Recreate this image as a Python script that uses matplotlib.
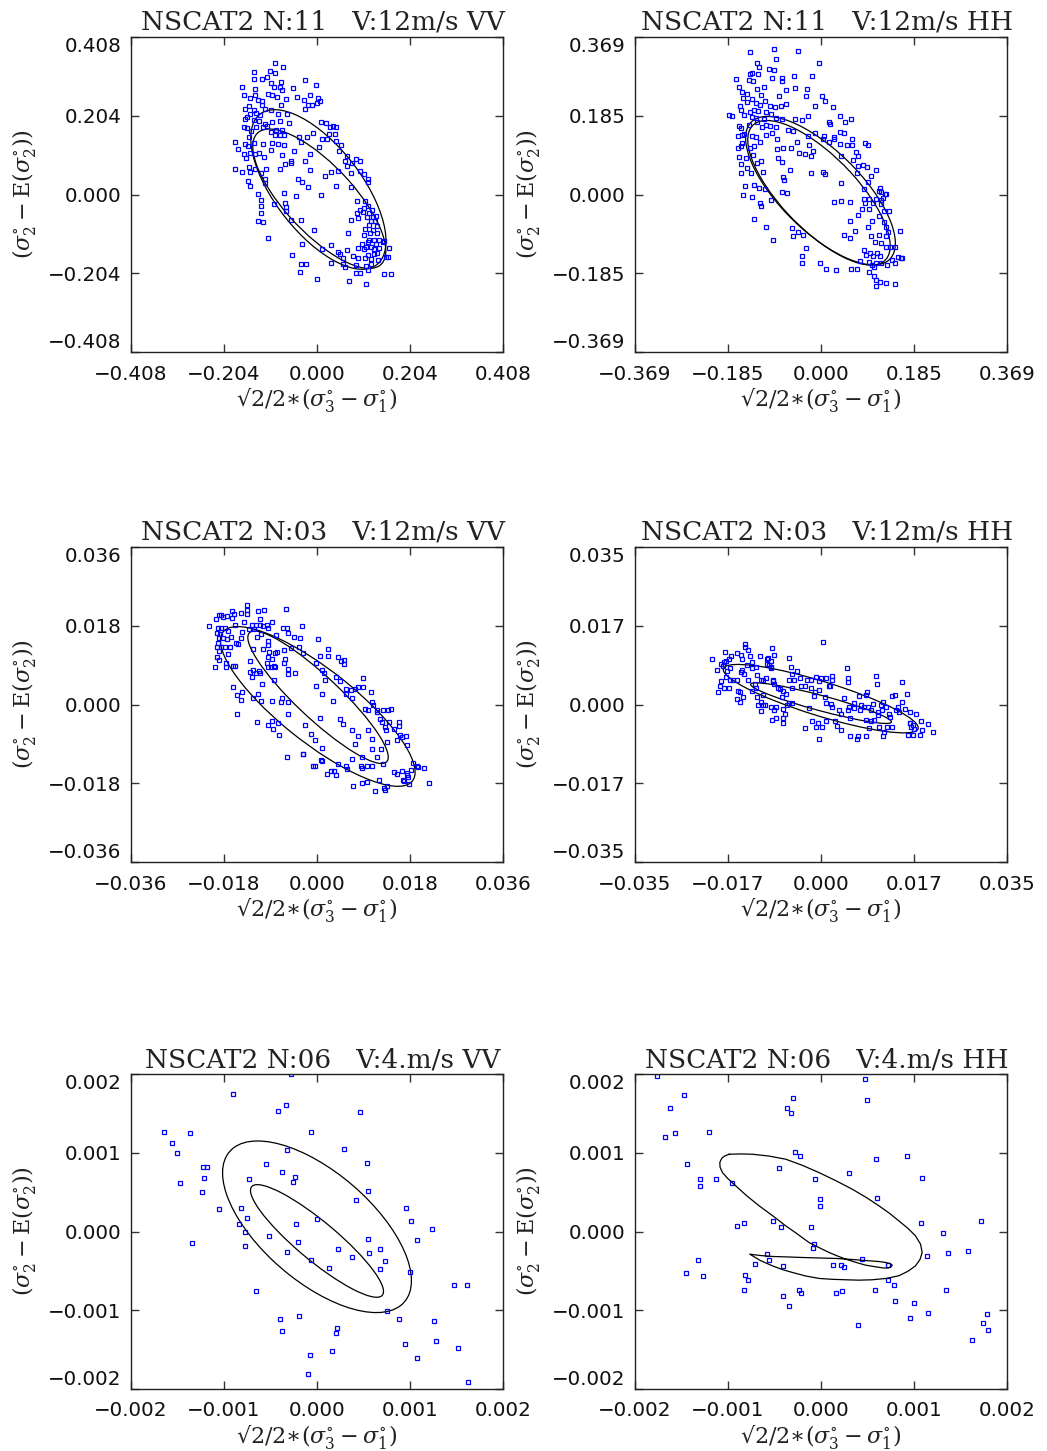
import numpy as np
import matplotlib
matplotlib.use("Agg")
import matplotlib.pyplot as plt
from matplotlib.patches import Ellipse

plt.rcParams['mathtext.fontset'] = 'dejavuserif'

# all values below are in units of 1e-3

# --- NSCAT2 N:11 VV
tl_pts = np.array([
    [-93,341],[-74,329],[-139,318],[-104,321],[-92,315],[-139,300],[-120,298],[-110,305],[-26,296],[-165,279],
    [-101,288],[-95,279],[-82,279],[-78,291],[-2,284],[-52,275],[-135,272],[-76,270],[-160,259],[-136,257],
    [-108,261],[-99,257],[-88,252],[-68,247],[-44,253],[-28,246],[-15,259],[3,249],[7,241],[-146,250],
    [-129,246],[-120,242],[-159,222],[-150,228],[-139,219],[-121,231],[-113,222],[-79,231],[-27,222],[-20,231],
    [-10,231],[1,237],[-133,212],[-125,205],[-101,219],[-86,209],[-66,209],[-158,196],[-153,200],[-146,208],
    [-139,194],[-127,191],[-114,182],[-99,187],[-82,191],[-61,185],[9,189],[20,184],[28,175],[35,177],
    [41,175],[-160,176],[-154,171],[-145,165],[-133,174],[-119,174],[-110,177],[-102,162],[-91,168],[-76,168],
    [-72,153],[-93,153],[-81,153],[-39,149],[-23,149],[-9,160],[11,143],[26,156],[39,156],[-179,136],
    [-173,117],[-158,132],[-150,148],[-152,125],[-139,134],[-119,132],[-99,134],[-85,130],[-73,128],[-51,112],
    [-36,136],[-16,106],[4,123],[21,143],[42,139],[52,129],[-161,105],[-156,94],[-147,108],[-136,104],
    [-127,108],[-116,98],[-101,115],[-77,102],[-58,86],[-57,82],[-27,88],[49,112],[66,99],[85,92],
    [77,82],[94,87],[-180,67],[-164,58],[-150,71],[-147,58],[-135,65],[-123,56],[-112,67],[-81,65],
    [-70,80],[-15,63],[18,49],[31,58],[47,61],[61,86],[66,73],[74,56],[95,60],[104,54],
    [112,39],[112,32],[-152,35],[-148,23],[-114,29],[-114,39],[-42,41],[-32,32],[-19,19],[41,22],
    [74,19],[-130,2],[-72,4],[-45,-5],[9,-2],[-123,-15],[-122,-30],[-94,-24],[-71,-22],[-67,-32],
    [-69,-43],[-122,-49],[-130,-69],[-119,-72],[-56,-67],[-35,-67],[-7,-93],[11,-141],[31,-131],[47,-148],
    [65,-143],[-34,-127],[-54,-156],[-36,-180],[-25,-179],[-37,-200],[1,-219],[30,-178],[58,-181],[61,-187],
    [-107,-113],[71,-223],[86,-203],[95,-203],[108,-233],[112,-195],[148,-205],[163,-205],[157,-138],[156,-162],
    [148,-120],[87,-16],[106,-18],[112,-29],[104,-34],[94,-39],[101,-46],[114,-48],[120,-40],[88,-49],
    [110,-58],[123,-58],[130,-56],[74,-67],[89,-61],[118,-68],[127,-68],[115,-79],[131,-82],[106,-89],
    [122,-91],[68,-99],[102,-105],[117,-99],[131,-99],[113,-117],[124,-119],[136,-117],[144,-122],[98,-127],
    [112,-124],[129,-129],[90,-139],[102,-141],[107,-136],[118,-136],[126,-141],[137,-138],[112,-158],[124,-155],
    [132,-151],[80,-160],[91,-164],[105,-164],[118,-168],[133,-170],[151,-162],[51,-153],[58,-164],[85,-182],
    [108,-186],[118,-181]])
# ellipses: centre x, centre y, width, height, angle (deg)
tl_ell = [(3, 13, 468, 200, -58.8), (5, -11, 436, 160, -53.0)]

# --- NSCAT2 N:11 HH
tr_pts = np.array([
    [-141,334],[-93,340],[-45,336],[-3,307],[-127,307],[-123,299],[-104,294],[-94,291],[-90,318],[-168,270],
    [-141,282],[-136,285],[-124,283],[-98,272],[-77,274],[-54,277],[-17,277],[-162,252],[-143,269],[-135,265],
    [-114,253],[-77,265],[-69,244],[-51,249],[-27,246],[-157,240],[-146,235],[-127,246],[-119,232],[-111,218],
    [-83,231],[-29,231],[1,230],[8,220],[-155,225],[-147,216],[-136,224],[-129,214],[-121,210],[-102,207],
    [-91,206],[-79,207],[-70,211],[-11,208],[24,204],[-161,208],[-158,197],[-141,194],[-132,199],[-124,196],
    [-110,194],[-100,189],[-182,186],[-176,185],[-153,186],[-136,182],[-128,180],[-113,177],[-89,179],[-77,177],
    [-52,176],[-38,174],[-25,183],[15,169],[18,166],[38,183],[48,169],[60,177],[-163,160],[-159,155],
    [-143,163],[-126,171],[-118,159],[-110,163],[-102,160],[-90,159],[-65,151],[-56,149],[-26,138],[-12,145],
    [6,136],[26,130],[37,147],[46,144],[62,130],[87,120],[94,116],[-165,138],[-157,139],[-153,141],
    [-136,138],[-129,134],[-109,139],[-98,144],[-87,131],[-48,123],[-24,116],[4,131],[16,122],[26,134],
    [38,119],[52,117],[61,116],[70,100],[-165,110],[-158,114],[-156,120],[-141,110],[-133,114],[-122,123],
    [-87,106],[-75,108],[-59,110],[-43,97],[-32,94],[-20,90],[-16,102],[40,90],[64,81],[73,90],
    [-162,89],[-149,86],[-134,92],[-126,73],[-120,79],[-85,86],[-77,75],[-61,57],[-20,51],[4,53],
    [7,49],[74,67],[83,69],[91,65],[110,57],[-158,71],[-147,61],[-158,50],[-139,50],[-116,53],
    [-75,42],[-73,35],[71,51],[99,43],[94,30],[-151,20],[-132,22],[-123,15],[-112,14],[40,26],
    [86,13],[117,16],[120,6],[126,2],[115,8],[-155,-2],[-137,-6],[-100,-13],[-121,-20],[-78,6],
    [-67,3],[-120,-27],[86,-10],[95,-10],[109,-10],[120,-12],[123,-9],[129,2],[87,-20],[95,-34],
    [104,-21],[120,-22],[135,-39],[124,-39],[-133,-57],[-109,-75],[-95,-106],[-58,-79],[-55,-97],[-46,-89],
    [-36,-96],[73,-48],[82,-35],[93,-75],[102,-61],[116,-51],[125,-64],[128,-75],[132,-87],[129,-98],
    [115,-94],[40,-15],[58,-17],[25,-18],[58,-61],[67,-85],[46,-96],[58,-103],[100,-97],[108,-112],
    [119,-114],[128,-122],[137,-122],[146,-122],[157,-86],[-30,-126],[-37,-144],[-37,-160],[-1,-161],[10,-175],
    [29,-178],[60,-175],[72,-175],[77,-156],[86,-131],[90,-141],[97,-138],[104,-145],[112,-138],[117,-145],
    [96,-158],[101,-165],[106,-171],[109,-161],[120,-161],[130,-165],[140,-153],[146,-161],[152,-147],[158,-149],
    [161,-149],[96,-181],[105,-191],[110,-200],[110,-214],[117,-204],[129,-207],[147,-209]])
tr_ell = [(-1, 9, 424, 172, -51.3), (-4, 4, 412, 158, -52.0)]

# --- NSCAT2 N:03 VV
ml_pts = np.array([
    [-21.0,17.9],[-19.6,19.5],[-19.8,8.5],[-19.0,20.4],[-18.5,20.4],[-18.2,19.9],[-17.4,20.2],[-16.5,19.8],[-16.5,21.4],[-16.0,20.7],
    [-14.7,20.9],[-13.6,22.7],[-13.6,21.7],[-13.5,20.7],[-14.2,18.8],[-11.4,21.4],[-10.2,21.7],[-6.0,21.9],[-19.2,17.4],[-18.6,17.5],
    [-17.9,17.4],[-17.2,16.8],[-19.3,16.4],[-18.7,16.1],[-19.0,15.2],[-18.2,15.3],[-17.5,15.0],[-16.6,15.5],[-19.1,14.1],[-18.5,13.2],
    [-19.4,13.2],[-19.0,12.3],[-17.9,13.2],[-16.9,13.2],[-15.6,14.1],[-15.3,13.9],[-19.3,10.9],[-18.9,10.1],[-17.2,11.5],[-17.7,9.4],
    [-17.6,8.5],[-16.2,8.8],[-15.8,8.9],[-15.8,18.2],[-14.8,15.3],[-14.5,16.5],[-13.2,17.2],[-12.5,18.1],[-11.9,18.1],[-11.0,18.1],
    [-10.4,18.0],[-9.7,18.2],[-9.4,17.4],[-8.7,18.9],[-11.1,19.5],[-12.2,17.2],[-11.7,15.5],[-10.9,16.1],[-9.5,14.6],[-9.4,13.6],
    [-7.9,15.9],[-6.5,17.5],[-5.9,17.6],[-5.7,16.4],[-4.5,15.5],[-3.2,15.3],[-2.9,17.9],[-12.3,12.6],[-10.5,12.6],[-9.4,10.9],
    [-9.2,12.1],[-8.1,11.8],[-7.7,12.0],[-6.4,12.4],[-5.0,13.0],[-3.4,13.2],[-2.8,11.7],[-9.7,9.4],[-8.7,10.4],[-8.4,8.8],
    [-8.1,8.5],[-9.4,8.6],[-9.0,8.5],[-12.9,10.0],[-12.4,8.0],[-11.9,7.2],[-11.2,7.7],[-12.9,7.5],[-12.5,6.3],[-11.0,7.1],
    [-10.7,4.8],[-8.3,5.6],[-6.4,9.5],[-6.1,10.5],[-5.7,8.2],[-5.7,6.9],[-4.3,7.2],[-16.2,4.0],[-15.5,2.1],[-14.8,1.0],
    [-14.5,2.9],[-15.5,-2.1],[-12.3,1.4],[-11.4,2.5],[-10.9,0.8],[-8.8,0.8],[-7.0,0.5],[-6.8,1.4],[-5.6,0.6],[-5.7,-2.1],
    [-11.6,-4.1],[-9.4,-4.7],[-8.7,-3.7],[-8.6,-5.6],[-7.6,-4.3],[-7.3,-7.0],[-5.8,-12.1],[-2.3,-4.7],[-1.2,-6.7],[-0.4,-8.2],
    [0.6,-3.1],[0.9,-10.0],[-2.8,-11.2],[-2.8,-11.4],[-0.8,-14.0],[-0.4,-14.1],[0.8,-12.6],[1.0,-12.9],[1.9,-15.8],[2.7,-15.2],
    [3.2,-15.2],[3.7,-16.0],[4.0,-13.5],[5.6,-14.1],[5.8,-14.7],[7.0,-18.6],[8.5,-14.1],[8.7,-14.6],[9.6,-14.1],[10.7,-14.1],
    [11.6,-12.1],[12.4,-10.1],[10.7,-10.1],[8.7,-17.9],[9.7,-17.7],[11.2,-19.7],[12.0,-17.2],[12.9,-19.0],[13.2,-19.5],[13.6,-18.7],
    [12.8,-13.5],[14.9,-15.4],[15.4,-15.8],[16.5,-15.3],[16.9,-17.5],[17.4,-16.2],[17.8,-18.1],[18.2,-15.0],[18.6,-13.4],[19.4,-14.1],
    [19.6,-14.3],[20.7,-14.5],[21.7,-17.9],[17.4,-15.7],[17.6,-16.6],[16.6,-17.2],[0.1,14.9],[0.6,11.1],[2.2,11.1],[2.1,12.8],
    [4.1,10.8],[4.7,10.0],[5.2,9.2],[5.2,10.1],[-0.2,9.4],[0.9,7.9],[1.4,7.1],[1.6,5.7],[-0.2,4.3],[1.0,2.3],
    [3.6,6.3],[4.5,5.3],[5.6,3.5],[5.6,2.4],[6.5,3.3],[6.8,1.5],[7.4,3.5],[7.9,3.9],[8.9,3.9],[8.9,6.0],
    [10.4,2.8],[10.6,0.5],[9.2,-1.0],[9.8,-1.3],[10.8,-0.1],[11.6,-1.3],[11.7,-1.6],[12.7,-1.3],[13.8,-1.2],[14.4,-1.0],
    [12.2,-3.2],[12.6,-4.0],[14.0,-4.0],[13.1,-5.1],[13.3,-5.9],[14.9,-5.6],[15.9,-4.0],[15.9,-4.8],[16.1,-6.9],[17.2,-7.1],
    [15.4,-8.0],[16.4,-7.4],[17.4,-9.3],[13.5,-8.6],[9.9,-5.9],[10.7,-7.9],[3.1,0.8],[4.5,-3.4],[5.0,-4.5],[6.7,-5.9],
    [8.0,-7.2],[7.4,-9.1],[8.7,-12.1],[6.8,-12.4]])
ml_ell = [(0.15, -0.45, 50.1, 15.6, -43.9), (0.2, 1.65, 39.7, 8.9, -48.4)]

# --- NSCAT2 N:03 HH
mr_pts = np.array([
    [-20.6,10.2],[-18.1,11.7],[-19.5,7.7],[-19.4,2.7],[-18.8,9.0],[-18.5,8.6],[-18.3,9.5],[-17.9,9.7],[-17.4,10.2],[-16.9,10.8],
    [-17.7,7.5],[-17.1,8.2],[-18.8,5.2],[-18.2,3.7],[-17.4,3.7],[-19.0,4.2],[-17.9,6.1],[-17.2,5.5],[-16.5,5.5],[-15.8,5.5],
    [-15.9,11.4],[-15.1,10.9],[-14.8,10.1],[-14.3,13.5],[-14.3,12.7],[-13.8,12.1],[-13.4,10.8],[-13.0,9.4],[-14.0,8.8],[-14.9,7.7],
    [-14.5,6.8],[-15.1,7.3],[-13.7,5.5],[-15.6,3.0],[-15.3,2.7],[-14.7,1.6],[-15.2,0.5],[-15.9,1.2],[-12.9,8.1],[-12.3,8.4],
    [-12.0,6.5],[-11.3,5.4],[-11.5,10.8],[-10.2,10.2],[-10.1,9.1],[-9.8,8.8],[-9.4,8.4],[-9.2,12.6],[-8.9,10.9],[-9.9,10.4],
    [-9.5,9.6],[-9.5,8.1],[-9.0,5.5],[-9.0,5.2],[-8.9,4.5],[-12.5,4.5],[-12.0,1.6],[-11.0,2.2],[-10.9,0.0],[-11.3,-1.5],
    [-11.3,0.5],[-10.5,-0.2],[-9.4,-0.6],[-8.9,-1.2],[-8.5,-0.6],[-9.3,-3.5],[-8.5,-2.9],[-7.1,-4.2],[-7.1,-2.9],[-6.8,-2.2],
    [-7.1,-1.0],[-6.4,0.0],[-6.1,0.4],[-5.4,0.3],[-7.4,1.7],[-6.6,2.3],[-6.1,5.5],[-5.4,3.7],[-6.0,10.4],[-5.7,8.3],
    [-5.4,6.8],[-4.6,7.5],[-5.1,5.5],[-4.0,5.9],[-3.0,4.1],[-3.0,-5.3],[-2.2,-0.7],[-1.8,3.6],[-1.4,1.9],[-1.2,2.7],
    [-1.0,-4.9],[-0.9,6.1],[-0.4,3.2],[-0.3,-7.7],[0.0,5.9],[0.1,-4.9],[0.4,13.8],[0.7,1.6],[0.9,0.4],[1.5,4.1],
    [1.7,4.1],[2.1,6.3],[1.8,0.1],[2.1,-0.6],[2.6,-3.6],[3.1,-4.8],[3.4,-1.2],[3.7,-5.6],[3.8,-2.2],[4.4,1.4],
    [4.9,8.1],[5.0,5.0],[5.1,5.8],[5.0,-1.2],[5.2,-0.6],[5.4,-3.1],[5.5,-7.1],[6.2,0.3],[6.3,-0.7],[6.8,-7.6],
    [6.9,-6.9],[7.1,1.9],[7.6,0.0],[8.4,2.1],[8.5,-7.1],[8.6,2.7],[8.8,-0.6],[9.1,-5.3],[9.4,-3.6],[9.5,-1.2],
    [9.8,0.1],[10.3,6.3],[10.5,4.5],[10.7,-1.7],[10.8,-2.4],[10.9,-4.9],[11.2,-0.1],[11.4,-1.3],[11.6,0.5],[11.6,-7.1],
    [11.8,-6.0],[12.3,-0.6],[12.8,-2.0],[13.0,-2.7],[13.3,1.8],[13.3,-4.9],[14.0,2.1],[14.1,-1.3],[14.4,-0.6],[14.7,-1.7],
    [15.3,5.0],[15.3,0.5],[15.9,-0.9],[16.1,2.3],[16.7,-1.6],[16.4,-6.7],[16.7,-4.2],[17.0,-4.9],[17.3,-4.6],[17.5,-5.5],
    [17.9,-2.2],[17.4,-6.7],[18.6,-6.8],[18.8,-3.7],[19.0,-5.6],[20.2,-4.3],[21.1,-6.0],[-0.4,5.3],[0.9,5.8],[2.1,5.5],
    [-2.7,5.4],[-1.9,5.5],[-3.8,4.1],[-8.1,3.7],[-7.7,3.4],[-7.1,3.0],[-12.9,3.0],[-12.2,3.6],[-10.9,5.5],[-10.4,5.9],
    [-11.9,0.0],[-1.6,-3.6],[-0.5,-4.2],[1.0,-3.7],[8.1,-0.6],[7.4,-1.3],[8.5,-3.5],[10.0,-3.5],[12.4,-4.9],[16.7,-4.0]])
mr_ell = [(-0.05, 1.3, 39.0, 7.54, -20.2), (0.0, 0.3, 27.8, 3.34, -17.7)]

# --- NSCAT2 N:06 VV
bl_pts = np.array([
    [-0.277,2.000],[-0.901,1.746],[-0.332,1.611],[-0.422,1.535],[0.465,1.518],[-1.643,1.260],[-1.362,1.252],[-0.061,1.264],
    [-1.564,1.125],[-1.510,0.994],[-0.324,1.032],[0.288,1.044],[-1.222,0.820],[-1.182,0.825],[-0.544,0.854],[0.541,0.871],
    [-0.378,0.761],[-1.214,0.681],[-0.728,0.668],[-0.241,0.693],[-1.470,0.617],[-0.256,0.626],[-1.232,0.503],[0.551,0.516],
    [0.418,0.402],[-1.052,0.292],[-0.822,0.296],[0.962,0.296],[-0.757,0.169],[-0.004,0.161],[-0.836,0.101],[-0.227,0.101],
    [1.016,0.135],[1.236,0.038],[-0.775,-0.008],[-1.348,-0.148],[-0.519,-0.055],[-0.209,-0.131],[0.544,-0.097],[-0.775,-0.186],
    [0.227,-0.216],[1.070,-0.106],[-0.321,-0.254],[0.555,-0.279],[0.674,-0.224],[0.375,-0.321],[-0.061,-0.359],[0.735,-0.372],
    [0.674,-0.478],[0.126,-0.461],[1.005,-0.520],[1.477,-0.681],[1.611,-0.685],[-0.659,-0.761],[0.750,-1.006],[-0.198,-1.074],
    [-0.400,-1.116],[0.886,-1.108],[1.261,-1.142],[0.216,-1.226],[-0.378,-1.264],[0.205,-1.285],[0.944,-1.429],[1.279,-1.391],
    [1.517,-1.480],[0.159,-1.518],[-0.076,-1.569],[1.074,-1.611],[-0.097,-1.810],[1.629,-1.907]])
bl_ell = [(0.0, 0.06, 2.69, 1.28, -48.2), (0.0, -0.12, 1.97, 0.46, -45.0)]

# --- NSCAT2 N:06 HH
br_pts = np.array([
    [-1.760,1.979],[0.476,1.941],[-1.474,1.734],[-0.304,1.696],[0.494,1.666],[-1.621,1.573],[-0.361,1.564],[-0.326,1.501],
    [-1.206,1.260],[-1.678,1.201],[-1.574,1.252],[-0.279,1.011],[-0.225,0.956],[0.923,0.964],[0.590,0.918],[-1.442,0.858],
    [-0.451,0.808],[0.304,0.744],[-1.302,0.664],[-1.127,0.664],[-0.068,0.664],[1.084,0.681],[-1.302,0.575],[-0.962,0.613],
    [0.597,0.427],[-0.014,0.410],[-0.007,0.326],[-0.902,0.076],[-0.826,0.110],[-0.519,0.127],[-0.429,0.055],[-0.104,0.059],
    [1.073,0.110],[1.721,0.127],[1.317,-0.017],[1.578,-0.245],[-0.072,-0.161],[-0.082,-0.211],[1.367,-0.271],[-0.583,-0.288],
    [1.145,-0.313],[-1.320,-0.368],[-0.558,-0.359],[0.444,-0.351],[-0.708,-0.410],[0.132,-0.431],[0.215,-0.423],[0.243,-0.448],
    [-0.408,-0.436],[0.723,-0.431],[-1.456,-0.529],[-1.270,-0.571],[-0.816,-0.550],[-0.780,-0.617],[0.723,-0.617],[0.784,-0.677],
    [-0.826,-0.748],[-0.240,-0.740],[-0.211,-0.786],[0.165,-0.782],[0.229,-0.753],[0.576,-0.748],[1.349,-0.744],[-0.411,-0.820],
    [-0.347,-0.947],[0.801,-0.888],[1.005,-0.905],[1.148,-1.036],[1.782,-1.053],[0.952,-1.099],[0.401,-1.184],[1.739,-1.159],
    [1.792,-1.252],[1.621,-1.378]])
br_cx = [-0.987,-0.860,-0.737,-0.560,-0.379,-0.200,-0.021,0.160,0.336,0.490,0.623,0.740,0.837,0.935,1.016,1.070,1.088,
         1.065,1.016,0.935,0.837,0.700,0.551,0.410,0.265,0.120,-0.021,-0.165,-0.308,-0.420,-0.522,-0.650,-0.766,
         -0.650,-0.522,-0.360,-0.200,-0.020,0.157,0.340,0.515,0.620,0.694,0.745,0.766,0.755,0.730,0.700,0.658,0.570,
         0.479,0.375,0.265,0.175,0.086,-0.020,-0.129,-0.250,-0.379,-0.520,-0.665,-0.800,-0.916,-1.000,-1.059,-1.085,
         -1.088,-1.075,-1.059,-1.030,-0.987]
br_cy = [0.981,0.985,0.981,0.958,0.918,0.840,0.748,0.645,0.537,0.430,0.326,0.228,0.135,0.040,-0.055,-0.160,-0.266,
         -0.355,-0.436,-0.505,-0.562,-0.596,-0.613,-0.618,-0.613,-0.607,-0.596,-0.565,-0.520,-0.482,-0.436,-0.370,-0.288,
         -0.305,-0.317,-0.323,-0.330,-0.336,-0.342,-0.356,-0.372,-0.381,-0.393,-0.408,-0.427,-0.447,-0.461,-0.465,-0.461,-0.445,
         -0.427,-0.392,-0.351,-0.310,-0.266,-0.205,-0.140,-0.035,0.072,0.200,0.326,0.455,0.579,0.670,0.748,0.815,
         0.875,0.912,0.939,0.962,0.981]

titles = ["NSCAT2 N:11   V:12m/s VV", "NSCAT2 N:11   V:12m/s HH",
          "NSCAT2 N:03   V:12m/s VV", "NSCAT2 N:03   V:12m/s HH",
          "NSCAT2 N:06   V:4.m/s VV", "NSCAT2 N:06   V:4.m/s HH"]
limits = [0.408, 0.369, 0.036, 0.035, 0.002, 0.002]
tick_labels = [["−0.408", "−0.204", "0.000", "0.204", "0.408"],
               ["−0.369", "−0.185", "0.000", "0.185", "0.369"],
               ["−0.036", "−0.018", "0.000", "0.018", "0.036"],
               ["−0.035", "−0.017", "0.000", "0.017", "0.035"],
               ["−0.002", "−0.001", "0.000", "0.001", "0.002"],
               ["−0.002", "−0.001", "0.000", "0.001", "0.002"]]
points = [tl_pts, tr_pts, ml_pts, mr_pts, bl_pts, br_pts]
ellipses = [tl_ell, tr_ell, ml_ell, mr_ell, bl_ell, None]

xlabel = "√2/2∗" + r"$(\sigma^{\circ}_{3}-\sigma^{\circ}_{1})$"
ylabel = r"$(\sigma^{\circ}_{2}-\mathrm{E}(\sigma^{\circ}_{2}))$"

W, H = 1047, 1451
fig = plt.figure(figsize=(W / 100, H / 100), dpi=100)

col_left = [131, 635]
col_w = 372
row_top = [37, 547, 1074]
row_h = 315

for i in range(6):
    r, c = divmod(i, 2)
    x0, y0 = col_left[c], row_top[r]
    ax = fig.add_axes([x0 / W, 1 - (y0 + row_h) / H, col_w / W, row_h / H])
    lim = limits[i]
    pts = points[i] / 1000.0
    ax.plot(pts[:, 0], pts[:, 1], ls='none', marker='s', ms=2.7, mfc='none',
            mec='#0000ff', mew=0.9)
    if ellipses[i] is not None:
        for cx, cy, w, h, ang in ellipses[i]:
            ax.add_patch(Ellipse((cx / 1000, cy / 1000), w / 1000, h / 1000, angle=ang,
                                 fill=False, ec='black', lw=0.9))
    else:
        ax.plot(np.array(br_cx) / 1000, np.array(br_cy) / 1000, color='black', lw=0.9)
    ax.set_xlim(-lim, lim)
    ax.set_ylim(-lim, lim)
    ticks = lim * np.array([-1, -0.5, 0, 0.5, 1])
    ax.set_xticks(ticks)
    ax.set_yticks(ticks)
    ax.set_xticklabels(tick_labels[i], fontsize=14.3, family='DejaVu Sans')
    ax.set_yticklabels(tick_labels[i], fontsize=14.3, family='DejaVu Sans')
    ax.tick_params(direction='in', length=6, width=1, top=True, right=True,
                   color='#333333', labelcolor='#111111')
    ax.tick_params(axis='x', pad=9)
    ax.tick_params(axis='y', pad=7)
    ylabs = ax.get_yticklabels()
    ylabs[0].set_va('bottom')
    ylabs[-1].set_va('top')
    for s in ax.spines.values():
        s.set_linewidth(1.0)
        s.set_color('#222222')
    ax.text(0.5 + 6 / col_w, 1 + 7 / row_h, titles[i], transform=ax.transAxes,
            ha='center', va='baseline', fontsize=19, family='DejaVu Serif', color='#222222')
    # axis labels
    fig.text((x0 + col_w / 2) / W, 1 - (y0 + row_h + 48) / H, xlabel, ha='center', va='center',
             fontsize=16, family='DejaVu Serif', color='#222222')
    fig.text((x0 - 107) / W, 1 - (y0 + row_h / 2) / H, ylabel, rotation=90, ha='center',
             va='center', fontsize=16, family='DejaVu Serif', color='#222222')

fig.savefig("out.png", dpi=100)
